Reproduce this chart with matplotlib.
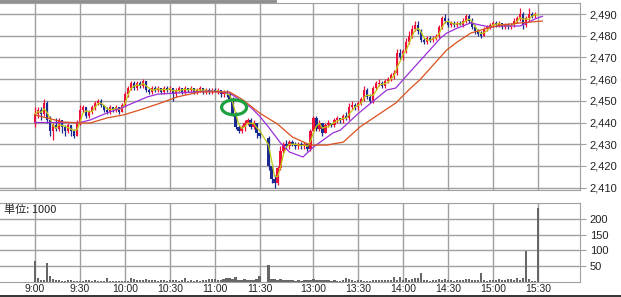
import matplotlib
matplotlib.use("Agg")
import matplotlib.pyplot as plt
import numpy as np
import pandas as pd
from matplotlib.patches import Ellipse
from matplotlib.lines import Line2D

# ---------------- data ----------------
m_open = [2440,2444,2446,2444,2449,2441,2436,2439,2437,2441, 2438,2436,2439,2436,2434,2440,2446,2447,2443,2445,
          2447,2449,2450,2448,2446,2445,2447,2446,2447,2445, 2448,2453,2456,2458,2456,2458,2457,2459,2455,2454,
          2456,2455,2456,2454,2456,2455,2456,2453,2455,2456, 2454,2456,2455,2456,2454,2455,2456,2454,2455,2454,
          2455,2454,2455,2453,2454,2453,2451,2444,2438,2436, 2438,2440,2441,2438,2440,2435]
m_close = [2444,2446,2444,2449,2441,2436,2439,2437,2441,2438, 2436,2439,2436,2434,2440,2446,2447,2443,2445,2447,
           2449,2450,2448,2446,2445,2447,2446,2447,2445,2448, 2453,2456,2458,2456,2458,2457,2459,2455,2454,2456,
           2455,2456,2454,2456,2455,2456,2453,2455,2456,2454, 2456,2455,2456,2454,2455,2456,2454,2455,2454,2455,
           2454,2455,2453,2454,2453,2451,2444,2438,2436,2438, 2440,2441,2438,2440,2435,2434]
m_high = [2447,2447,2447,2451,2450,2443,2440,2442,2442,2441, 2439,2440,2439,2437,2441,2448,2448,2447,2446,2448,
          2450,2451,2451,2448,2447,2448,2447,2448,2447,2449, 2454,2457,2459,2459,2459,2459,2460,2459,2456,2457,
          2457,2457,2456,2457,2457,2457,2456,2456,2457,2456, 2457,2456,2457,2456,2456,2457,2456,2456,2456,2456,
          2456,2456,2455,2455,2455,2453,2452,2445,2439,2439, 2441,2442,2442,2441,2440,2436]
m_low = [2438,2442,2441,2443,2440,2434,2432,2436,2436,2435, 2434,2435,2434,2433,2434,2439,2445,2442,2442,2444,
         2446,2448,2447,2445,2444,2444,2445,2445,2444,2445, 2447,2452,2455,2455,2455,2456,2456,2454,2453,2453,
         2454,2454,2453,2453,2454,2454,2450,2452,2454,2453, 2453,2454,2454,2453,2453,2454,2453,2453,2453,2453,
         2454,2453,2452,2452,2452,2450,2443,2437,2435,2435, 2436,2439,2437,2437,2433,2433]
m_vol = [66,10,5,5,60,19,9,6,5,3, 2,6,4,2,1,2,3,5,5,3, 5,3,2,2,10,2,2,3,2,1,
         2,3,10,7,4,6,6,7,5,4, 4,3,4,5,3,4,6,4,3,5, 10,3,4,3,5,3,5,4,7,7,
         8,4,5,8,10,12,8,13,6,6, 7,6,6,5,7,19]

a_open = [2433,2420,2414,2412,2419,2427,2430,2429,2431,2430, 2429,2430,2429,2430,2428,2436,2442,2437,2440,2435,
          2439,2440,2439,2441,2442,2441,2443,2442,2447,2448, 2447,2449,2451,2455,2452,2450,2456,2458,2458,2457,
          2459,2460,2462,2463,2472,2470,2473,2477,2480,2483, 2485,2482,2478,2477,2479,2478,2479,2480,2484,2488,
          2487,2485,2486,2485,2486,2485,2487,2489,2487,2484, 2482,2481,2480,2483,2484,2485,2486,2485,2486,2484,
          2485,2484,2485,2487,2488,2490,2485,2488,2490,2489, 2490]
a_close = [2420,2414,2412,2419,2427,2430,2429,2431,2430,2429, 2430,2429,2430,2428,2436,2442,2437,2440,2435,2439,
           2440,2439,2441,2442,2441,2443,2442,2447,2448,2447, 2449,2451,2455,2452,2450,2456,2458,2458,2457,2459,
           2460,2462,2463,2472,2470,2473,2477,2480,2483,2485, 2482,2478,2477,2479,2478,2479,2480,2484,2488,2487,
           2485,2486,2485,2486,2485,2487,2489,2487,2484,2482, 2481,2480,2483,2484,2485,2486,2485,2486,2484,2485,
           2484,2485,2487,2488,2490,2485,2488,2490,2489,2490, 2490]
a_high = [2434,2421,2416,2420,2429,2431,2432,2432,2432,2431, 2431,2431,2431,2430,2437,2443,2443,2441,2440,2440,
          2441,2440,2442,2443,2442,2444,2445,2449,2450,2449, 2450,2452,2457,2456,2453,2457,2459,2460,2459,2460,
          2461,2463,2464,2474,2474,2474,2479,2482,2485,2487, 2487,2483,2479,2480,2480,2480,2481,2485,2489,2490,
          2488,2487,2487,2487,2487,2488,2490,2490,2488,2485, 2483,2482,2484,2485,2486,2487,2487,2487,2486,2486,
          2486,2486,2488,2489,2493,2491,2489,2493,2491,2491, 2490]
a_low = [2418,2412,2410,2411,2418,2426,2428,2428,2429,2428, 2428,2428,2428,2427,2427,2435,2436,2436,2434,2435,
         2438,2438,2438,2440,2440,2440,2441,2441,2446,2446, 2446,2448,2450,2451,2449,2449,2455,2457,2456,2456,
         2458,2459,2460,2462,2469,2469,2472,2476,2479,2482, 2481,2477,2476,2476,2477,2477,2478,2479,2483,2486,
         2484,2484,2484,2484,2485,2484,2486,2486,2483,2481, 2480,2479,2480,2482,2483,2484,2484,2484,2483,2483,
         2483,2483,2484,2486,2487,2483,2484,2487,2488,2488, 2490]
a_vol = [52,8,9,6,7,5,6,4,5,3, 5,2,6,4,6,8,5,4,6,5, 4,3,4,3,2,4,10,8,5,3,
         4,5,2,3,2,5,5,4,5,4, 6,5,14,5,13,4,12,6,8,12, 10,27,5,4,3,5,4,8,6,9,
         5,4,3,5,4,6,7,7,6,5, 4,27,5,3,4,6,4,7,5,6, 8,7,6,12,6,10,99,9,3,2, 238]

mid_ma_times = ["09:00","09:30","09:37","09:48","09:59","10:15","10:22","10:35","10:57","11:10","11:24","11:30",
                "12:30","12:38","12:44","12:53","13:00","13:13","13:18","13:30","13:49","13:55","14:05","14:10",
                "14:25","14:29","14:36","14:45","14:51","14:58","15:05","15:18","15:29","15:33"]
mid_ma = [2440,2440,2441.2,2444.4,2447.1,2451.8,2453.1,2453.6,2454.5,2453.6,2447.1,2443,
          2437.9,2430.6,2426.4,2424.1,2428.7,2435.2,2436.5,2444.2,2455,2455.9,2463.7,2467.5,
          2479,2481.2,2483.5,2485.9,2485,2484,2484.5,2484.5,2488,2489]
long_ma_times = ["09:00","09:19","09:30","09:37","09:48","09:59","10:10","10:24","10:35","10:50","11:10","11:19",
                 "11:30","12:36","12:46","12:58","13:09","13:20","13:31","13:45","13:55","14:05","14:11","14:23",
                 "14:29","14:36","14:45","14:56","15:05","15:18","15:33"]
long_ma = [2443.5,2440.2,2439.8,2439.8,2442.1,2443.5,2445.8,2449,2451.8,2454.1,2454.1,2450.4,
           2444.4,2439.3,2433.3,2429.6,2429.6,2431,2437.9,2444.4,2449,2455.9,2459.6,2468.8,
           2473.4,2477.1,2481.2,2483.5,2484.9,2485.9,2486.8]

tick_times = ["9:00","9:30","10:00","10:30","11:00","11:30","13:00","13:30","14:00","14:30","15:00","15:30"]
price_ticks = [2410,2420,2430,2440,2450,2460,2470,2480,2490]
vol_ticks = [50,100,150,200]
marked_time, marked_price = "11:13", 2447   # green ellipse mark


def axis_pos(hhmm):
    """Session-compressed time scale (lunch break removed)."""
    h, m = map(int, hhmm.split(":"))
    mins = h * 60 + m
    if mins <= 11 * 60 + 30:
        return mins - 9 * 60
    return 156 + (mins - (12 * 60 + 30))


m_times = list(pd.date_range("2024-01-01 09:00", "2024-01-01 11:30", freq="2min").strftime("%H:%M"))
a_times = list(pd.date_range("2024-01-01 12:30", "2024-01-01 15:30", freq="2min").strftime("%H:%M"))
x = np.array([axis_pos(t) for t in m_times + a_times], dtype=float)
O = np.array(m_open + a_open, dtype=float)
C = np.array(m_close + a_close, dtype=float)
H = np.array(m_high + a_high, dtype=float)
L = np.array(m_low + a_low, dtype=float)
V = np.array(m_vol + a_vol, dtype=float)
short_ma = pd.Series(C).rolling(3, min_periods=1).mean().values

UP, DOWN = "#ee1038", "#1b2a8e"
GRID = "#a0a0a0"
cols = np.where(C >= O, UP, DOWN)

W, Hpx = 621, 297
fig = plt.figure(figsize=(W / 100, Hpx / 100), dpi=100)
fig.patch.set_facecolor("white")
ax = fig.add_axes([0, 1 - 190 / Hpx, 580 / W, 187 / Hpx])
axv = fig.add_axes([0, 1 - 281.5 / Hpx, 580 / W, 78.5 / Hpx])

xl = (-23.4, 364.1)
xt = [axis_pos(t) for t in tick_times]

# price panel
ax.vlines(x, L, H, colors=cols, lw=0.9, zorder=2)
body = np.where(np.abs(C - O) < 0.4, 0.4, C - O)
ax.bar(x, body, bottom=np.where(np.abs(C - O) < 0.4, O - 0.2, O), width=1.5, color=cols, zorder=2)
ax.plot(x, short_ma, color="#c0cc10", lw=0.9, zorder=3)
ax.plot([axis_pos(t) for t in mid_ma_times], mid_ma, color="#9a2fd8", lw=0.9, zorder=3)
ax.plot([axis_pos(t) for t in long_ma_times], long_ma, color="#dc501c", lw=0.9, zorder=3)
ax.add_patch(Ellipse((axis_pos(marked_time), marked_price), 16.7, 6.9, fill=False,
                     edgecolor="#1fa040", lw=2.3, zorder=4))
ax.set_xlim(*xl)
ax.set_ylim(2408.9, 2495.1)
ax.set_xticks(xt)
ax.set_yticks(price_ticks)
ax.set_yticklabels([f"{v:,}" for v in price_ticks])
ax.grid(True, color=GRID, lw=1.0)
ax.set_axisbelow(True)
ax.yaxis.tick_right()
ax.tick_params(axis="y", length=4, color=GRID, pad=3, labelsize=8, labelcolor="#222")
ax.tick_params(axis="x", length=0, labelbottom=False)
for s in ["top", "right", "bottom"]:
    ax.spines[s].set_color(GRID)
ax.spines["left"].set_visible(False)

# volume panel
axv.bar(x, V, width=1.5, color="#666666", zorder=2)
axv.set_xlim(*xl)
axv.set_ylim(0, 253)
axv.set_xticks(xt)
axv.set_xticklabels(tick_times)
axv.set_yticks(vol_ticks)
axv.grid(True, color=GRID, lw=1.0)
axv.set_axisbelow(True)
axv.yaxis.tick_right()
axv.tick_params(axis="y", length=4, color=GRID, pad=3, labelsize=8, labelcolor="#222")
axv.tick_params(axis="x", length=0, pad=2, labelsize=7.5, labelcolor="#222")
for s in ["top", "right", "bottom"]:
    axv.spines[s].set_color(GRID)
axv.spines["left"].set_visible(False)
for a in (ax, axv):
    for lab in a.get_xticklabels() + a.get_yticklabels():
        lab.set_family(["Liberation Sans", "DejaVu Sans"])

fig.text(4 / W, 1 - 210 / Hpx, "単位: 1000", fontsize=8, va="center", ha="left",
         family=["Noto Sans CJK JP", "DejaVu Sans"], color="#222")
fig.add_artist(Line2D([0, 275 / W], [1 - 1.2 / Hpx] * 2, color="#8a8a8a", lw=2))
fig.add_artist(Line2D([0, 1], [1 - 295.8 / Hpx] * 2, color="#333333", lw=1.4))

fig.savefig("out.png", dpi=100)
